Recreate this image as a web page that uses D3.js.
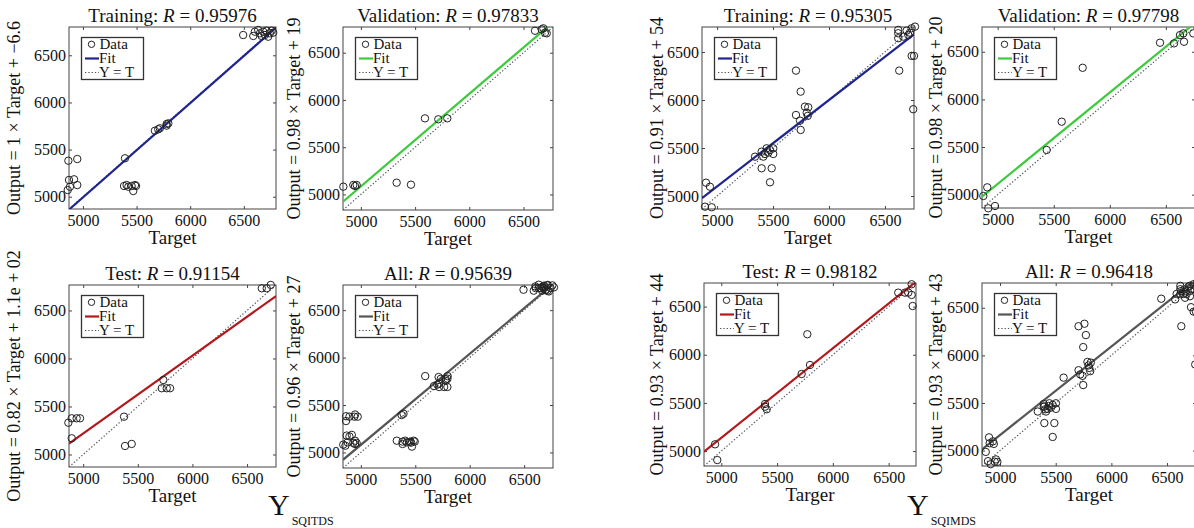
<!DOCTYPE html>
<html>
<head>
<meta charset="utf-8">
<script src="https://cdn.jsdelivr.net/npm/d3@7"></script>
<style>
  body { margin: 0; background: #fff; }
  svg { display: block; }
</style>
</head>
<body>
<script>
// points, [target, output]
const trainITDS = [[4864,5382],[4947,5400],[4870,5178],[4917,5185],[4947,5124],[4879,5106],[4858,5071],
  [5392,5408],[5383,5114],[5407,5124],[5423,5106],[5454,5114],[5485,5124],[5495,5114],[5469,5061],
  [5671,5700],[5702,5715],[5717,5726],[5780,5771],[5796,5778],[5780,5754],[6494,6715],
  [6603,6750],[6634,6768],[6650,6733],[6681,6750],[6697,6715],[6712,6761],[6743,6733],[6759,6761],
  [6774,6740],[6666,6705],[6588,6705],[6727,6697]];
const valITDS = [[4838,5082],[4930,5100],[4946,5089],[4961,5100],[5330,5124],[5462,5103],[5591,5805],
  [5714,5795],[5797,5805],[6606,6732],[6683,6758],[6698,6711],[6714,6705],[6668,6747]];
const testITDS = [[4864,5331],[4895,5377],[4940,5377],[4971,5377],[4895,5169],[5374,5394],[5383,5089],
  [5444,5110],[5734,5776],[5719,5690],[5765,5690],[5795,5690],[6635,6731],[6680,6731],[6717,6766]];

const trainIMDS = [[4901,5139],[4936,5097],[4892,4889],[4952,4883],[5339,5410],[5398,5462],[5413,5410],
  [5443,5497],[5473,5480],[5502,5497],[5502,5438],[5428,5438],[5458,5452],[5398,5289],[5488,5289],
  [5473,5143],[5705,6306],[5747,6087],[5705,5844],[5741,5785],[5747,5688],[5785,5931],[5815,5924],
  [5801,5868],[5810,5834],[6628,6306],[6739,6459],[6760,6459],[6753,5904],[6619,6730],[6619,6695],
  [6619,6643],[6694,6722],[6724,6701],[6739,6747],[6769,6764],[6709,6677],[6664,6660]];
const valIMDS = [[4872,4986],[4907,5077],[4916,4857],[4976,4881],[5437,5469],[5571,5766],[5758,6332],
  [6448,6595],[6573,6588],[6626,6675],[6656,6693],[6662,6605],[6745,6693]];
const testIMDS = [[4944,5070],[4964,4907],[5392,5489],[5407,5434],[5392,5461],[5720,5800],[5795,5894],
  [5771,6213],[6586,6645],[6646,6645],[6676,6645],[6706,6732],[6706,6621],[6715,6506]];

const allITDS = trainITDS.concat(valITDS, testITDS);
const allIMDS = trainIMDS.concat(valIMDS, testIMDS);

const ticks = [5000, 5500, 6000, 6500];
const setNames = ["Training", "Validation", "Test", "All"];
const rITDS = ["0.95976", "0.97833", "0.91154", "0.95639"];
const rIMDS = ["0.95305", "0.97798", "0.98182", "0.96418"];
const eqITDS = ["Output = 1 × Target + −6.6", "Output = 0.98 × Target + 19",
  "Output = 0.82 × Target + 1.1e + 02", "Output = 0.96 × Target + 27"];
const eqIMDS = ["Output = 0.91 × Target + 54", "Output = 0.98 × Target + 20",
  "Output = 0.93 × Target + 44", "Output = 0.93 × Target + 43"];
// fit lines as drawn in the picture
const slopeITDS = [1, 0.98, 0.81, 0.96];
const interITDS = [-6.6, 185, 1170, 280];
const slopeIMDS = [0.9, 0.96, 0.93, 0.93];
const interIMDS = [600, 313, 487, 513];
const xNamesITDS = ["Target", "Target", "Target", "Target"];
const xNamesIMDS = ["Target", "Target", "Targer", "Target"];
const fitColors = ["#1f2590", "#3dcb3d", "#b3191c", "#555555"];

const font = "'Liberation Serif', 'Times New Roman', serif";

// panel boxes and axis limits
const panels = [
  {x: 69,  y: 27,  w: 207, h: 182, lim: [4870, 6800], labX: 20},
  {x: 343, y: 27,  w: 210, h: 183, lim: [4835, 6772], labX: 300},
  {x: 69,  y: 285, w: 207, h: 182, lim: [4870, 6765], labX: 20},
  {x: 343, y: 285, w: 210, h: 183, lim: [4836, 6765], labX: 300},
  {x: 702, y: 27,  w: 212, h: 182, lim: [4865, 6760], labX: 663},
  {x: 982, y: 27,  w: 213, h: 181, lim: [4860, 6760], labX: 942},
  {x: 704, y: 283, w: 212, h: 183, lim: [4845, 6745], labX: 663},
  {x: 982, y: 283, w: 214, h: 183, lim: [4838, 6760], labX: 942}
];

const sets = [trainITDS, valITDS, testITDS, allITDS, trainIMDS, valIMDS, testIMDS, allIMDS];
panels.forEach((p, i) => {
  const k = i % 4, left = i < 4;
  p.data = sets[i];
  p.name = setNames[k];
  p.r = left ? rITDS[k] : rIMDS[k];
  p.eq = left ? eqITDS[k] : eqIMDS[k];
  p.a = left ? slopeITDS[k] : slopeIMDS[k];
  p.b = left ? interITDS[k] : interIMDS[k];
  p.xName = left ? xNamesITDS[k] : xNamesIMDS[k];
  p.color = fitColors[k];
});

const svg = d3.select("body").append("svg")
  .attr("width", 1194).attr("height", 528)
  .attr("font-family", font);

svg.append("rect").attr("width", 1194).attr("height", 528).attr("fill", "#fff");

const defs = svg.append("defs");

panels.forEach((p, i) => {
  const x = d3.scaleLinear().domain(p.lim).range([p.x, p.x + p.w]);
  const y = d3.scaleLinear().domain(p.lim).range([p.y + p.h, p.y]);
  const g = svg.append("g");

  defs.append("clipPath").attr("id", "clip" + i)
    .append("rect").attr("x", p.x).attr("y", p.y).attr("width", p.w).attr("height", p.h);

  // axes, ticks pointing inward
  const ax = [
    g.append("g").attr("transform", `translate(0,${p.y + p.h})`)
      .call(d3.axisBottom(x).tickValues(ticks).tickSize(-3).tickPadding(5.5).tickFormat(d3.format("d"))),
    g.append("g").attr("transform", `translate(${p.x},0)`)
      .call(d3.axisLeft(y).tickValues(ticks).tickSize(-3).tickPadding(3).tickFormat(d3.format("d"))),
    g.append("g").attr("transform", `translate(0,${p.y})`)
      .call(d3.axisTop(x).tickValues(ticks).tickSize(-3).tickFormat("")),
    g.append("g").attr("transform", `translate(${p.x + p.w},0)`)
      .call(d3.axisRight(y).tickValues(ticks).tickSize(-3).tickFormat(""))
  ];
  ax.forEach(a => {
    a.select(".domain").remove();
    a.selectAll("line").attr("stroke", "#444");
    a.selectAll("text").attr("font-family", font).attr("font-size", 16).attr("fill", "#111");
  });

  g.append("rect")
    .attr("x", p.x).attr("y", p.y).attr("width", p.w).attr("height", p.h)
    .attr("fill", "none").attr("stroke", "#444").attr("stroke-width", 1);

  const lines = g.append("g").attr("clip-path", `url(#clip${i})`);
  const [lo, hi] = p.lim;

  // Y = T
  lines.append("line")
    .attr("x1", x(lo)).attr("y1", y(lo)).attr("x2", x(hi)).attr("y2", y(hi))
    .attr("stroke", "#4a5560").attr("stroke-width", 1.2).attr("stroke-dasharray", "1.3,2");

  // fit
  lines.append("line")
    .attr("x1", x(lo)).attr("y1", y(p.a * lo + p.b))
    .attr("x2", x(hi)).attr("y2", y(p.a * hi + p.b))
    .attr("stroke", p.color).attr("stroke-width", 2.2);

  g.append("g").selectAll("circle")
    .data(p.data).join("circle")
    .attr("cx", d => x(d[0])).attr("cy", d => y(d[1]))
    .attr("r", 3.7).attr("fill", "none").attr("stroke", "#222").attr("stroke-width", 1);

  // legend
  const lx = p.x + 12.5, ly = p.y + 10.5;
  const lg = g.append("g").attr("font-size", 15).attr("fill", "#111");
  lg.append("rect").attr("x", lx).attr("y", ly).attr("width", 62).attr("height", 42)
    .attr("fill", "#fff").attr("stroke", "#333").attr("stroke-width", 1.3);
  lg.append("circle").attr("cx", lx + 10).attr("cy", ly + 6.8).attr("r", 3.2)
    .attr("fill", "none").attr("stroke", "#222").attr("stroke-width", 1);
  lg.append("text").attr("x", lx + 18).attr("y", ly + 11).text("Data");
  lg.append("line").attr("x1", lx + 3.5).attr("x2", lx + 17.5)
    .attr("y1", ly + 21).attr("y2", ly + 21)
    .attr("stroke", p.color).attr("stroke-width", 2.2);
  lg.append("text").attr("x", lx + 17.5).attr("y", ly + 25.3).text("Fit");
  lg.append("line").attr("x1", lx + 3.5).attr("x2", lx + 17.5)
    .attr("y1", ly + 35).attr("y2", ly + 35)
    .attr("stroke", "#4a5560").attr("stroke-width", 1.2).attr("stroke-dasharray", "1.3,2");
  lg.append("text").attr("x", lx + 17.5).attr("y", ly + 39.3).text("Y = T");

  // title
  const cx = p.x + p.w / 2;
  const t = g.append("text").attr("x", cx).attr("y", p.y - 5)
    .attr("text-anchor", "middle").attr("font-size", 19).attr("fill", "#111");
  t.append("tspan").text(p.name + ": ");
  t.append("tspan").attr("font-style", "italic").text("R");
  t.append("tspan").text(" = " + p.r);

  g.append("text").attr("x", cx).attr("y", p.y + p.h + 35)
    .attr("text-anchor", "middle").attr("font-size", 19).attr("fill", "#111")
    .text(p.xName);

  g.append("text")
    .attr("transform", `translate(${p.labX},${p.y + p.h / 2}) rotate(-90)`)
    .attr("text-anchor", "middle").attr("font-size", 18).attr("fill", "#111")
    .text(p.eq);
});

// group captions
const captions = [{x: 268, sub: "SQITDS"}, {x: 907, sub: "SQIMDS"}];
captions.forEach(c => {
  const t = svg.append("text").attr("x", c.x).attr("y", 515).attr("fill", "#111");
  t.append("tspan").attr("font-size", 30).text("Y");
  t.append("tspan").attr("font-size", 12).attr("dx", 2).attr("dy", 10).text(c.sub);
});
</script>
</body>
</html>
